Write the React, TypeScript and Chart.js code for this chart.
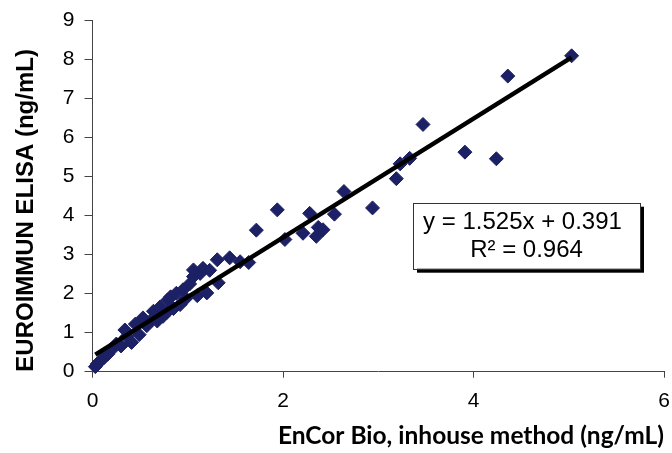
import React, { useEffect, useRef } from "react";
import { Chart, registerables } from "chart.js";

Chart.register(...registerables);

// EnCor Bio, inhouse method (ng/mL)
const encorX = [
  0.03, 0.05, 0.08, 0.12, 0.16, 0.2, 0.25, 0.3, 0.34, 0.36,
  0.41, 0.45, 0.49, 0.53, 0.57, 0.6, 0.64, 0.68, 0.71, 0.74,
  0.78, 0.79, 0.82, 0.85, 0.88, 0.92, 0.95, 0.98, 1.02, 1.06,
  1.06, 1.1, 1.13, 1.16, 1.2, 1.23, 1.31, 1.32, 1.44, 1.55,
  1.64, 1.72, 1.94, 2.02, 2.21, 2.28, 2.35, 2.37, 2.42, 2.54,
  2.64, 2.94, 3.19, 3.23, 3.33, 3.47, 3.91, 4.24, 4.36, 5.03,
];
// EUROIMMUN ELISA (ng/mL)
const elisaY = [
  0.13, 0.2, 0.27, 0.36, 0.45, 0.56, 0.71, 0.66, 1.07, 0.9,
  0.75, 1.22, 0.95, 1.38, 1.18, 1.28, 1.55, 1.3, 1.66, 1.42,
  1.52, 1.84, 1.92, 1.62, 2.01, 1.72, 2.1, 1.88, 2.25, 2.44,
  2.61, 1.95, 2.52, 2.65, 2.02, 2.6, 2.87, 2.28, 2.92, 2.82,
  2.8, 3.63, 4.15, 3.39, 3.55, 4.06, 3.47, 3.7, 3.64, 4.04,
  4.62, 4.2, 4.95, 5.33, 5.47, 6.34, 5.63, 5.46, 7.58, 8.1,
];

const TREND_SLOPE = 1.525;
const TREND_INTERCEPT = 0.391;
const R_SQUARED = 0.964;

const X_TICKS = [0, 2, 4, 6];
const Y_TICKS = [0, 1, 2, 3, 4, 5, 6, 7, 8, 9];

const X_TITLE = "EnCor Bio, inhouse method (ng/mL)";
const Y_TITLE = "EUROIMMUN ELISA (ng/mL)";
const EQ_LINES = [
  `y = ${TREND_SLOPE.toFixed(3)}x + ${TREND_INTERCEPT.toFixed(3)}`,
  `R² = ${R_SQUARED.toFixed(3)}`,
];

const MARKER = "#1c2064";

const equationBox = {
  id: "equationBox",
  afterDraw(chart: any) {
    const { ctx, chartArea } = chart;
    const left = chartArea.left + 320.5;
    const top = chartArea.top + 182;
    const w = 227;
    const h = 66;
    ctx.save();
    ctx.fillStyle = "#000";
    ctx.fillRect(left + 4, top + 4, w, h);
    ctx.fillStyle = "#fff";
    ctx.fillRect(left, top, w, h);
    ctx.strokeStyle = "#333";
    ctx.lineWidth = 1;
    ctx.strokeRect(Math.round(left) + 0.5, Math.round(top) + 0.5, w, h);
    ctx.fillStyle = "#000";
    ctx.font = "24px 'Liberation Sans', Arial, sans-serif";
    ctx.textAlign = "center";
    ctx.textBaseline = "middle";
    ctx.fillText(EQ_LINES[0], left + w / 2 - 4, top + 20);
    ctx.fillText(EQ_LINES[1], left + w / 2, top + 48);
    ctx.restore();
  },
};

export default function App() {
  const ref = useRef<HTMLCanvasElement | null>(null);
  useEffect(() => {
    if (!ref.current) return;
    const points = encorX.map((x, i) => ({ x, y: elisaY[i] }));
    const xMin = Math.min(...encorX);
    const xMax = Math.max(...encorX);
    const trend = [
      { x: xMin, y: TREND_SLOPE * xMin + TREND_INTERCEPT },
      { x: xMax, y: TREND_SLOPE * xMax + TREND_INTERCEPT },
    ];
    const tickFont = { family: "'Liberation Sans', Arial, sans-serif", size: 21 };
    const chart = new Chart(ref.current, {
      type: "scatter",
      data: {
        datasets: [
          {
            label: "Samples",
            data: points,
            pointStyle: "rectRot",
            pointRadius: 7,
            pointBorderWidth: 1,
            backgroundColor: MARKER,
            borderColor: MARKER,
            clip: false,
            order: 2,
          } as any,
          {
            label: "Linear",
            type: "line",
            data: trend,
            borderColor: "#000",
            borderWidth: 4.5,
            pointRadius: 0,
            fill: false,
            order: 1,
          } as any,
        ],
      },
      plugins: [equationBox],
      options: {
        animation: false,
        responsive: false,
        layout: { padding: { top: 20.7, right: 0, bottom: 0, left: 0 } },
        plugins: { legend: { display: false }, tooltip: { enabled: false } },
        scales: {
          x: {
            type: "linear",
            min: 0,
            max: 6,
            afterBuildTicks: (s: any) => {
              s.ticks = X_TICKS.map((v) => ({ value: v }));
            },
            afterFit: (s: any) => {
              s.height = 81.3;
              s.paddingLeft = 0;
              s.paddingRight = 7;
            },
            ticks: { font: tickFont, color: "#000", padding: 11 },
            grid: {
              display: true,
              drawOnChartArea: false,
              drawTicks: true,
              tickLength: 6,
              color: "#444",
            },
            border: { display: true, color: "#444", width: 1 },
            title: {
              display: true,
              text: X_TITLE,
              align: "end",
              color: "#000",
              font: { family: "Lato, sans-serif", weight: "bold", size: 24.5 },
              padding: { top: 0, bottom: 2 },
            },
          },
          y: {
            type: "linear",
            min: 0,
            max: 9,
            afterBuildTicks: (s: any) => {
              s.ticks = Y_TICKS.map((v) => ({ value: v }));
            },
            afterFit: (s: any) => {
              s.width = 92.5;
              s.paddingTop = 0;
              s.paddingBottom = 0;
            },
            ticks: { font: tickFont, color: "#000", padding: 10 },
            grid: {
              display: true,
              drawOnChartArea: false,
              drawTicks: true,
              tickLength: 8,
              color: "#444",
            },
            border: { display: true, color: "#444", width: 1 },
            title: {
              display: true,
              text: Y_TITLE,
              align: "start",
              color: "#000",
              font: { family: "'Liberation Sans', Arial, sans-serif", weight: "bold", size: 24 },
              padding: { top: 12, bottom: 0 },
            },
          },
        },
      } as any,
    });
    return () => chart.destroy();
  }, []);
  return (
    <div style={{ position: "absolute", left: 0, top: 0, width: 672, height: 453, background: "#fff" }}>
      <canvas ref={ref} width={672} height={453} />
    </div>
  );
}
